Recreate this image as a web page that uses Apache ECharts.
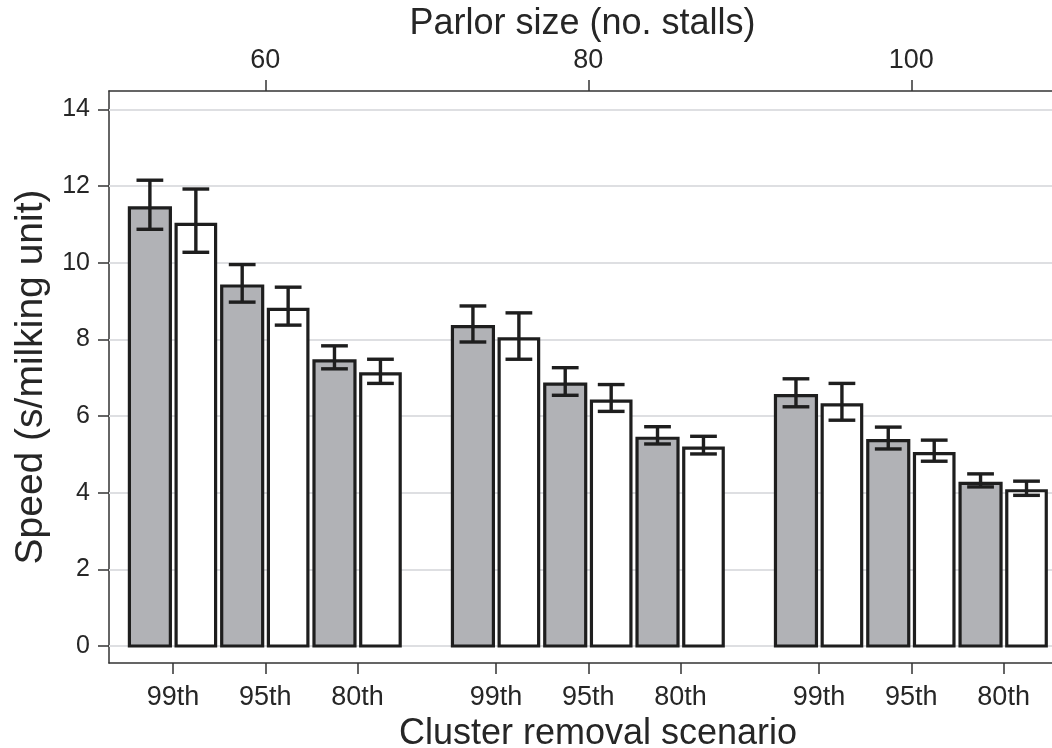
<!DOCTYPE html>
<html>
<head>
<meta charset="utf-8">
<script src="https://cdn.jsdelivr.net/npm/echarts@6/dist/echarts.min.js"></script>
<style>
html,body{margin:0;padding:0;background:#fff;}
#chart{width:1052px;height:748px;}
</style>
</head>
<body>
<div id="chart"></div>
<script>
// ---- data ----
const scenarios = ['99th', '95th', '80th'];
const parlorSizes = [60, 80, 100];
const yTicks = [0, 2, 4, 6, 8, 10, 12, 14];

const greyMean = [11.43, 9.39, 7.44, 8.33, 6.83, 5.42, 6.53, 5.36, 4.24];
const greyLow  = [10.87, 8.97, 7.23, 7.93, 6.54, 5.27, 6.24, 5.14, 4.15];
const greyHigh = [12.15, 9.95, 7.83, 8.87, 7.26, 5.72, 6.97, 5.71, 4.49];

const whiteMean = [11.00, 8.78, 7.10, 8.01, 6.39, 5.16, 6.29, 5.02, 4.05];
const whiteLow  = [10.27, 8.37, 6.85, 7.48, 6.12, 5.01, 5.89, 4.82, 3.93];
const whiteHigh = [11.92, 9.36, 7.48, 8.69, 6.82, 5.47, 6.85, 5.37, 4.30];

// ---- layout helpers ----
const GROUP_STEP = 3.5; // distance between group starts on the x axis (pair units)
function pairPos(g, s) { return g * GROUP_STEP + s; }
const pairPositions = [];
const pairLabels = [];
parlorSizes.forEach((p, g) => scenarios.forEach((sc, s) => {
  pairPositions.push(pairPos(g, s));
  pairLabels.push(sc);
}));
const groupCenters = parlorSizes.map((p, g) => pairPos(g, 1));

function labelFor(positions, labels, v) {
  for (let i = 0; i < positions.length; i++) {
    if (Math.abs(positions[i] - v) < 1e-6) return String(labels[i]);
  }
  return '';
}

const items = [];
for (let i = 0; i < greyMean.length; i++) {
  items.push([pairPositions[i], greyMean[i], greyLow[i], greyHigh[i], 0]);
  items.push([pairPositions[i], whiteMean[i], whiteLow[i], whiteHigh[i], 1]);
}

const INK = '#1e1e1e';
const FONT = 'Liberation Sans, Arial, Helvetica, sans-serif';
const TEXT = '#262626';

const chart = echarts.init(document.getElementById('chart'), null, {renderer: 'canvas'});

const xMin = -0.693, xMax = 9.73;
const yMin = -0.443, yMax = 14.477;

const option = {
  animation: false,
  backgroundColor: '#ffffff',
  grid: {left: 109, right: -19, top: 91, bottom: 85, containLabel: false, outerBoundsMode: 'none'},
  xAxis: [
    {
      type: 'value', position: 'bottom', min: xMin, max: xMax,
      name: 'Cluster removal scenario', nameLocation: 'middle', nameGap: 45,
      nameTextStyle: {fontFamily: FONT, fontSize: 36, color: TEXT, padding: [0, 0, 0, 16]},
      axisLine: {show: true, onZero: false, lineStyle: {color: '#333', width: 1.5}},
      axisTick: {show: true, length: 11, customValues: pairPositions, lineStyle: {color: '#333', width: 1.5}},
      axisLabel: {show: true, customValues: pairPositions, margin: 21, fontFamily: FONT, fontSize: 27, color: TEXT,
        formatter: v => labelFor(pairPositions, pairLabels, v)},
      splitLine: {show: false}
    },
    {
      type: 'value', position: 'top', min: xMin, max: xMax,
      name: 'Parlor size (no. stalls)', nameLocation: 'middle', nameGap: 47,
      nameTextStyle: {fontFamily: FONT, fontSize: 36, color: TEXT, padding: [0, 15, 0, 0]},
      axisLine: {show: true, onZero: false, lineStyle: {color: '#333', width: 1.5}},
      axisTick: {show: true, length: 11, customValues: groupCenters, lineStyle: {color: '#333', width: 1.5}},
      axisLabel: {show: true, customValues: groupCenters, margin: 17, fontFamily: FONT, fontSize: 27, color: TEXT,
        formatter: v => labelFor(groupCenters, parlorSizes, v)},
      splitLine: {show: false}
    }
  ],
  yAxis: {
    type: 'value', min: yMin, max: yMax,
    name: 'Speed (s/milking unit)', nameLocation: 'middle', nameGap: 58,
    nameTextStyle: {fontFamily: FONT, fontSize: 39, color: TEXT},
    axisLine: {show: true, onZero: false, lineStyle: {color: '#333', width: 1.5}},
    axisTick: {show: true, length: 11, customValues: yTicks, lineStyle: {color: '#333', width: 1.5}},
    axisLabel: {show: true, customValues: yTicks, margin: 19, fontFamily: FONT, fontSize: 25, color: TEXT},
    splitLine: {show: false}
  },
  series: [
    {
      type: 'line', data: [], z: 1, silent: true,
      markLine: {
        silent: true, symbol: 'none', label: {show: false}, animation: false, z: 1,
        lineStyle: {color: '#dedfe2', width: 2, type: 'solid'},
        data: yTicks.map(v => ({yAxis: v}))
      }
    },
    {
      type: 'custom', z: 3, xAxisIndex: 0,
      data: items,
      encode: {x: 0, y: [1, 2, 3]},
      renderItem: function (params, api) {
        const x = api.value(0), mean = api.value(1), lo = api.value(2), hi = api.value(3), kind = api.value(4);
        const unit = api.size([1, 0])[0];
        const top = api.coord([x, mean]);
        const base = api.coord([x, 0]);
        const off0 = kind === 0 ? -0.472 : 0.034;
        const off1 = kind === 0 ? -0.028 : 0.462;
        const x0 = top[0] + off0 * unit, x1 = top[0] + off1 * unit;
        const cx = (x0 + x1) / 2;
        const yHi = api.coord([x, hi])[1];
        const yLo = api.coord([x, lo])[1];
        const cap = 0.145 * unit;
        const lineStyle = {stroke: INK, lineWidth: 3.4};
        return {
          type: 'group',
          children: [
            {type: 'rect', shape: {x: x0, y: top[1], width: x1 - x0, height: base[1] - top[1]},
              style: {fill: kind === 0 ? '#b1b2b6' : '#ffffff', stroke: INK, lineWidth: 3.2, lineJoin: 'miter'}},
            {type: 'line', shape: {x1: cx, y1: yHi, x2: cx, y2: yLo}, style: lineStyle},
            {type: 'line', shape: {x1: cx - cap, y1: yHi, x2: cx + cap, y2: yHi}, style: lineStyle},
            {type: 'line', shape: {x1: cx - cap, y1: yLo, x2: cx + cap, y2: yLo}, style: lineStyle}
          ]
        };
      }
    }
  ]
};
chart.setOption(option);
</script>
</body>
</html>
